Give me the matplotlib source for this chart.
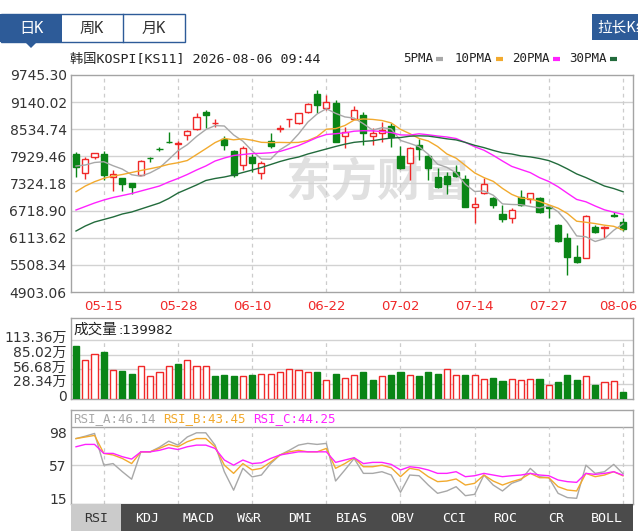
import numpy as np
import matplotlib
matplotlib.use('Agg')
import matplotlib.pyplot as plt
import matplotlib.transforms as mtransforms
from matplotlib.patches import Rectangle, Polygon

plt.rcParams['font.family'] = ['DejaVu Sans', 'Noto Sans CJK SC']
MONO = ['DejaVu Sans Mono', 'Noto Sans CJK SC']
CJK = ['Noto Sans CJK SC', 'DejaVu Sans']

# ---- data ----
opens = [7982, 7552, 7909, 7982, 7462, 7440, 7329, 7514, 7904, 8100,
         8257, 8199, 8406, 8533, 8926, 8674, 8324, 8056, 7737, 7909,
         7552, 8279, 8549, 8756, 8667, 8913, 9321, 9002, 9127, 8384,
         8763, 8852, 8384, 8444, 8607, 7944, 7775, 8183, 7938, 7476,
         7491, 7587, 7418, 6793, 7106, 6994, 6637, 6548, 7030, 6978,
         6994, 6807, 6398, 6102, 5691, 5655, 6360, 6338, 6621, 6472]
highs = [8034, 7915, 8005, 8056, 7625, 7447, 7335, 7848, 7909, 8145,
         8466, 8279, 8511, 8904, 8964, 8763, 8384, 8072, 8161, 7982,
         7826, 8457, 8629, 8774, 8897, 9127, 9410, 9299, 9187, 8591,
         9053, 8926, 8556, 8703, 8667, 8161, 8145, 8310, 7960, 7663,
         7587, 7737, 7514, 7016, 7440, 7030, 6845, 6771, 7179, 7112,
         7030, 6845, 6410, 6213, 5952, 6628, 6398, 6365, 6688, 6548]
lows = [7462, 7431, 7864, 7402, 7157, 7157, 7090, 7503, 7810, 8042,
        8239, 7871, 8295, 8529, 8556, 8585, 8072, 7462, 7625, 7587,
        7424, 8109, 8480, 8591, 8663, 8908, 8890, 8964, 8243, 8109,
        8756, 8183, 8183, 8257, 8145, 7641, 7402, 7848, 7402, 7217,
        7090, 7480, 6800, 6450, 7101, 6771, 6472, 6450, 6822, 6896,
        6673, 6548, 6026, 5283, 5544, 5651, 6226, 6102, 6584, 6271]
closes = [7692, 7864, 7998, 7514, 7536, 7313, 7239, 7833, 7893, 8087,
          8243, 8221, 8502, 8814, 8852, 8685, 8176, 7514, 8109, 7775,
          7778, 8161, 8558, 8763, 8890, 9091, 9075, 9149, 8250, 8480,
          8964, 8444, 8440, 8518, 8355, 7663, 8109, 8087, 7663, 7253,
          7313, 7491, 6807, 6860, 7313, 6845, 6526, 6733, 6845, 7106,
          6695, 6771, 6048, 5678, 5580, 6599, 6249, 6360, 6608, 6302]

ma5 = [7714, 7737, 7793, 7810, 7721, 7645, 7520, 7487, 7563, 7672,
       7860, 8056, 8190, 8373, 8527, 8616, 8607, 8408, 8268, 8051,
       7871, 7866, 8076, 8205, 8428, 8692, 8875, 8993, 8890, 8810,
       8783, 8658, 8515, 8569, 8544, 8286, 8219, 8147, 7976, 7755,
       7685, 7561, 7306, 7146, 7157, 7063, 6869, 6856, 6851, 6811,
       6780, 6829, 6693, 6458, 6155, 6135, 6030, 6093, 6280, 6423]
ma10 = [7141, 7268, 7364, 7440, 7491, 7525, 7570, 7614, 7654, 7697,
        7752, 7788, 7837, 7969, 8101, 8237, 8330, 8299, 8321, 8290,
        8243, 8237, 8241, 8237, 8241, 8281, 8370, 8536, 8549, 8618,
        8739, 8765, 8754, 8730, 8676, 8533, 8437, 8330, 8272, 8150,
        7984, 7889, 7726, 7561, 7456, 7373, 7215, 7081, 6998, 6983,
        6923, 6849, 6773, 6655, 6483, 6459, 6430, 6394, 6369, 6289]
ma20 = [6733, 6811, 6889, 6956, 7012, 7056, 7101, 7157, 7212, 7268,
        7358, 7436, 7525, 7625, 7715, 7826, 7893, 7949, 7971, 7993,
        7998, 8011, 8040, 8103, 8170, 8259, 8350, 8417, 8435, 8455,
        8491, 8502, 8498, 8484, 8460, 8408, 8404, 8433, 8411, 8384,
        8362, 8328, 8241, 8145, 8067, 7953, 7826, 7706, 7636, 7567,
        7454, 7369, 7251, 7108, 6969, 6916, 6822, 6737, 6684, 6637]
ma30 = [6264, 6376, 6465, 6521, 6577, 6644, 6688, 6755, 6822, 6889,
        6989, 7112, 7201, 7291, 7391, 7436, 7469, 7514, 7570, 7625,
        7681, 7748, 7815, 7871, 7915, 7982, 8038, 8094, 8150, 8201,
        8243, 8263, 8279, 8312, 8339, 8350, 8379, 8388, 8382, 8353,
        8321, 8297, 8241, 8176, 8125, 8063, 8009, 7982, 7940, 7918,
        7882, 7835, 7752, 7650, 7538, 7456, 7362, 7268, 7212, 7141]

# volume in 万
volume = [102.3, 74.5, 85.5, 90.0, 55.0, 53.7, 48.6, 62.8, 43.4, 51.1,
          62.8, 68.0, 74.5, 62.8, 62.8, 43.4, 45.9, 43.4, 43.4, 45.9,
          48.6, 48.6, 51.1, 57.5, 55.0, 51.1, 51.1, 36.9, 48.6, 40.8,
          45.9, 51.1, 36.9, 43.4, 45.9, 51.1, 45.9, 43.4, 51.1, 48.6,
          57.5, 45.9, 45.9, 45.9, 38.9, 40.8, 34.2, 38.9, 36.9, 38.9,
          38.9, 26.4, 31.7, 45.9, 36.9, 43.4, 26.4, 31.7, 34.2, 13.9982]

rsi_a = [90.7, 93.7, 97.2, 57.0, 59.0, 48.7, 39.2, 73.9, 73.9, 79.8,
         87.4, 82.4, 92.7, 98.0, 98.0, 82.4, 48.7, 25.3, 53.0, 42.1,
         44.5, 59.0, 69.9, 75.8, 82.4, 84.6, 83.3, 84.6, 36.9, 50.9,
         65.5, 46.6, 46.6, 48.7, 44.5, 22.6, 44.5, 43.6, 31.8, 21.3,
         24.3, 29.7, 18.3, 20.0, 44.5, 31.8, 24.3, 34.0, 38.2, 52.9,
         42.4, 41.1, 21.3, 15.9, 15.0, 57.0, 46.6, 48.7, 58.0, 46.14]
rsi_b = [90.7, 92.7, 94.7, 71.9, 69.9, 65.5, 59.0, 73.9, 73.9, 78.2,
         83.3, 80.3, 86.7, 90.7, 90.7, 80.3, 57.0, 46.6, 59.0, 50.9,
         53.0, 61.0, 69.9, 73.9, 75.8, 73.9, 73.9, 78.2, 53.0, 59.0,
         66.4, 55.0, 55.0, 57.0, 53.7, 42.4, 53.0, 50.9, 42.4, 36.1,
         36.9, 39.5, 31.8, 34.0, 44.5, 36.9, 31.8, 36.1, 39.5, 46.6,
         41.1, 41.1, 29.7, 25.5, 24.3, 46.6, 42.4, 44.5, 48.7, 43.45]
rsi_c = [80.3, 83.3, 83.3, 71.9, 71.9, 67.7, 64.7, 73.9, 73.9, 75.8,
         79.0, 76.8, 80.3, 82.4, 82.4, 78.2, 63.5, 57.0, 63.5, 59.0,
         60.0, 65.5, 69.9, 71.9, 73.9, 73.9, 73.9, 73.9, 60.5, 63.5,
         66.4, 59.0, 60.5, 60.5, 58.0, 50.9, 55.0, 53.7, 50.9, 46.6,
         46.6, 48.7, 42.4, 43.6, 46.6, 44.5, 42.4, 43.6, 44.5, 46.6,
         44.5, 43.6, 38.2, 36.1, 35.2, 46.6, 45.3, 46.6, 48.7, 44.25]

date_ticks = [3, 11, 19, 27, 35, 43, 51, 59]
date_labels = ['05-15', '05-28', '06-10', '06-22', '07-02', '07-14', '07-27', '08-06']
price_ticks = [4903.06, 5508.34, 6113.62, 6718.90, 7324.18, 7929.46, 8534.74, 9140.02, 9745.30]
vol_ticks = [0, 28.34, 56.68, 85.02, 113.36]
vol_labels = ['0', '28.34万', '56.68万', '85.02万', '113.36万']
rsi_ticks = [15, 57, 98]
ma_names = ['5PMA', '10PMA', '20PMA', '30PMA']
tab_names = ['RSI', 'KDJ', 'MACD', 'W&R', 'DMI', 'BIAS', 'OBV', 'CCI', 'ROC', 'CR', 'BOLL']

RED = '#f02828'
GREEN = '#0a8516'
BLUE = '#2d5b98'
MA_COLORS = ['#a8a8a8', '#f2aa2e', '#ff22ff', '#226b3c']
GRID = '#d2d2d2'
SPINE = '#a4a4a4'

W, H = 638.0, 531.0
fig = plt.figure(figsize=(W / 100, H / 100), dpi=100)
fig.set_facecolor('w')


def box(x0, y0, x1, y1):
    return [x0 / W, 1 - y1 / H, (x1 - x0) / W, (y1 - y0) / H]


ax = fig.add_axes(box(71, 75, 633, 292))
axv = fig.add_axes(box(71, 318, 633, 399))
axr = fig.add_axes(box(71, 410, 633, 504.3))

# decoration layer in pixel coords, on top of the panels
deco = fig.add_axes([0, 0, 1, 1], zorder=10)
deco.set_xlim(0, W)
deco.set_ylim(H, 0)
deco.axis('off')

x = np.arange(len(closes))
o = np.array(opens, float)
c = np.array(closes, float)
hi = np.array(highs, float)
lo = np.array(lows, float)
up = c > o
XL = (-0.54, 60.08)
BW = 0.66

for a in (ax, axv, axr):
    a.set_xlim(*XL)
    for s in a.spines.values():
        s.set_color(SPINE)
        s.set_linewidth(1)

# ---- main K-line panel ----
ax.set_ylim(price_ticks[0], price_ticks[-1])
for p in price_ticks[1:-1]:
    ax.axhline(p, color=GRID, lw=1, zorder=1)
for t in date_ticks:
    ax.axvline(t, color='#cccccc', lw=0.9, ls=(0, (3, 3)), zorder=1)
ax.text(0.545, 0.5, '东方财富', transform=ax.transAxes, ha='center', va='center',
        fontsize=33, fontweight='bold', color='#e0e0e0', family=CJK, zorder=0.8)

cols = np.where(up, RED, GREEN)
ax.vlines(x, lo, hi, colors=cols, lw=1, zorder=2)
ax.bar(x, np.maximum(np.abs(c - o), 5), bottom=np.minimum(o, c), width=BW,
       color=np.where(up, 'white', GREEN), edgecolor=cols, lw=1, zorder=3)
for ma, mc in zip((ma5, ma10, ma20, ma30), MA_COLORS):
    ax.plot(x, ma, color=mc, lw=1, zorder=4)

ax.set_yticks(price_ticks, [f'{p:.2f}' for p in price_ticks])
ax.set_xticks(date_ticks, date_labels)
ax.tick_params(axis='y', length=0, pad=3, labelsize=10, labelcolor='#333333')
ax.tick_params(axis='x', length=0, pad=6, labelsize=9.5, labelcolor=RED)
last = ax.get_xticklabels()[-1]
last.set_transform(last.get_transform() +
                   mtransforms.ScaledTranslation(-5 / 100, 0, fig.dpi_scale_trans))

# ---- volume panel ----
axv.set_ylim(0, 155.6)
for v in vol_ticks[1:]:
    axv.axhline(v, color=GRID, lw=1, zorder=1)
axv.vlines(date_ticks, 0, vol_ticks[-1], colors='#cccccc', lw=0.9,
           linestyles=(0, (3, 3)), zorder=1)
vup = np.r_[up[0], c[1:] >= c[:-1]]
axv.bar(x, volume, width=BW, color=np.where(vup, 'white', GREEN),
        edgecolor=np.where(vup, RED, GREEN), lw=1, zorder=3)
axv.set_xticks([])
axv.set_yticks(vol_ticks, vol_labels)
axv.tick_params(axis='y', length=0, pad=3, labelsize=10, labelcolor='#333333')
off = mtransforms.ScaledTranslation(0, 3.5 / 100, fig.dpi_scale_trans)
for lab in axv.get_yticklabels():
    lab.set_transform(lab.get_transform() + off)
axv.text(2 / 562, 1 - 12 / 81, '成交量', transform=axv.transAxes, family=CJK,
         fontsize=10.5, va='center', ha='left', color='#222222')
axv.text(48 / 562, 1 - 12 / 81, ':%d' % round(volume[-1] * 10000), transform=axv.transAxes,
         fontsize=9.5, va='center', ha='left', color='#222222')

# ---- RSI panel ----
RSI_LO, RSI_SEP, RSI_HI = 7.4, 105.7, 126.9
axr.set_ylim(RSI_LO, RSI_HI)
axr.axhline(RSI_SEP, color=SPINE, lw=1, zorder=1)
axr.axhline(57, color=GRID, lw=1, zorder=1)
axr.vlines(date_ticks, RSI_LO, RSI_SEP, colors='#cccccc', lw=0.9,
           linestyles=(0, (3, 3)), zorder=1)
rsi_cols = ['#a8a8a8', '#f2aa2e', '#ff22ff']
for series, rc in zip((rsi_a, rsi_b, rsi_c), rsi_cols):
    axr.plot(x, series, color=rc, lw=1, zorder=3)
axr.set_xticks([])
axr.set_yticks(rsi_ticks, [str(t) for t in rsi_ticks])
axr.tick_params(axis='y', length=0, pad=3, labelsize=10, labelcolor='#333333')
for i, (nm, series, rc) in enumerate(zip(['RSI_A', 'RSI_B', 'RSI_C'],
                                         (rsi_a, rsi_b, rsi_c), rsi_cols)):
    deco.text(73 + 90 * i, 418.5, f'{nm}:{series[-1]:.2f}', family=MONO,
              fontsize=9, color=rc, va='center', ha='left')

# ---- indicator tabs ----
deco.add_patch(Rectangle((71, 504.3), 562, 26.7, color='#4b4b4b', lw=0))
deco.add_patch(Rectangle((71, 504.3), 50, 26.7, color='#cbcbcb', lw=0))
for i, nm in enumerate(tab_names):
    deco.text(96 + 51.1 * i, 518, nm, family=MONO, fontsize=9.5,
              color='#333333' if i == 0 else 'white', ha='center', va='center')

# ---- header: period tabs, title, legend, button ----
deco.add_patch(Rectangle((0, 14), 62, 28, color=BLUE, lw=0))
deco.add_patch(Rectangle((0.5, 14), 184.5, 28, fill=False, edgecolor=BLUE, lw=1))
deco.plot([123, 123], [14, 42], color=BLUE, lw=1)
deco.add_patch(Polygon([(25, 42), (37, 42), (31, 48)], closed=True, color=BLUE, lw=0))
for cx, nm, tc in ((31, '日K', 'white'), (92, '周K', '#333333'), (154, '月K', '#333333')):
    deco.text(cx, 28, nm, family=MONO, fontsize=11, color=tc, ha='center', va='center')
deco.add_patch(Rectangle((592, 14), 50, 26, color=BLUE, lw=0))
deco.text(597, 27.5, '拉长K线', family=CJK, fontsize=10.5, color='white', ha='left', va='center')

deco.text(70, 59, '韩国KOSPI[KS11] 2026-08-06 09:44', family=MONO, fontsize=9.5,
          color='#222222', ha='left', va='center')
leg_x = [403, 455, 512, 569]
for lx, nm, mc in zip(leg_x, ma_names, MA_COLORS):
    deco.text(lx, 59, nm, family=MONO, fontsize=9, color='#222222', ha='left', va='center')
    tw = 7.5 * len(nm)
    deco.plot([lx + tw + 3, lx + tw + 10], [59, 59], color=mc, lw=3, solid_capstyle='butt')

fig.savefig('out.png', dpi=100, facecolor='w')
